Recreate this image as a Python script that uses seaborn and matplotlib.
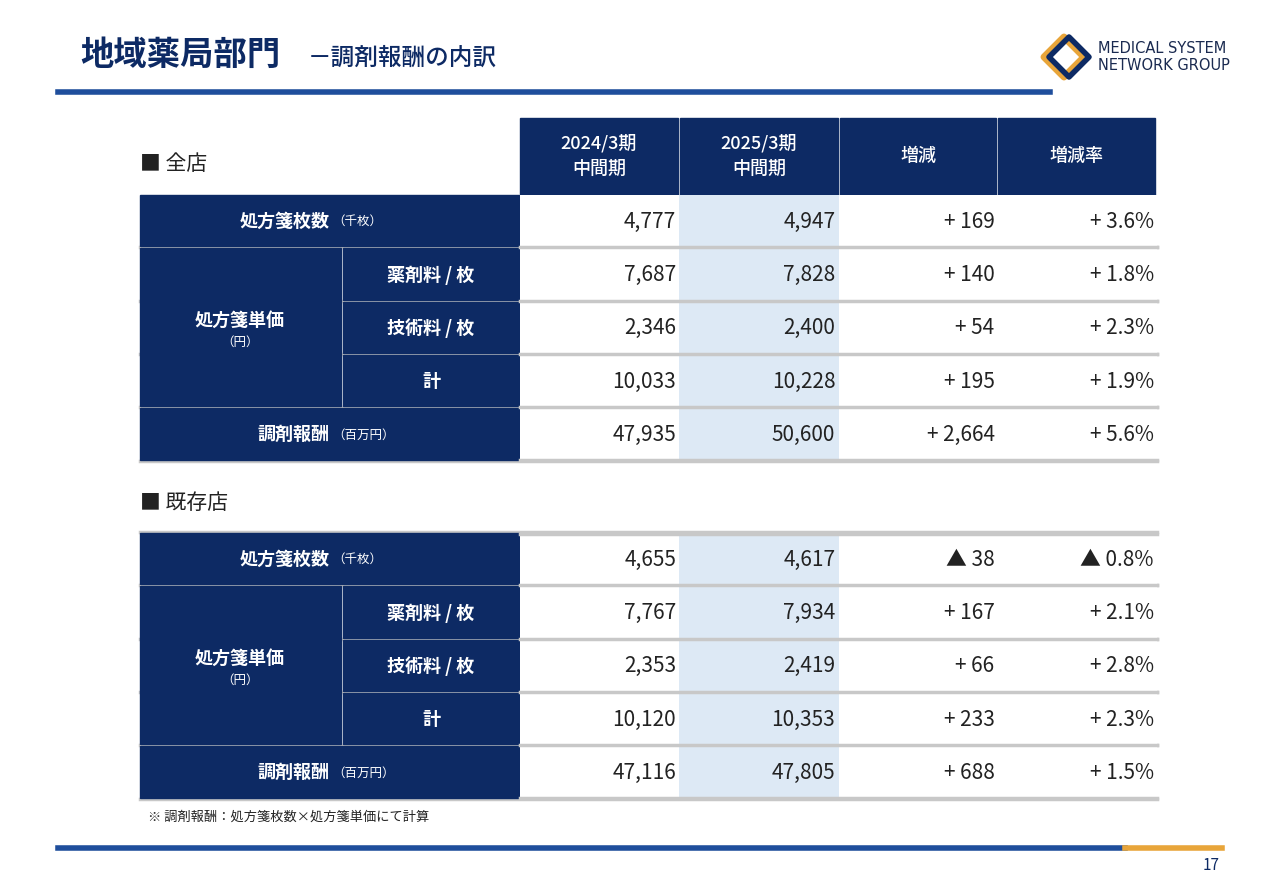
import numpy as np
import pandas as pd
import matplotlib
matplotlib.use("Agg")
import matplotlib.pyplot as plt
import seaborn as sns
from matplotlib.patches import Rectangle, Polygon
from matplotlib.colors import ListedColormap

plt.rcParams["font.family"] = "Noto Sans CJK JP"

NAVY = "#0d2a64"
LIGHT = "#dde9f5"
GRID = "#c8c8c8"

# data
col_labels = ["2024/3期\n中間期", "2025/3期\n中間期", "増減", "増減率"]
zen_prev = ["4,777", "7,687", "2,346", "10,033", "47,935"]
zen_curr = ["4,947", "7,828", "2,400", "10,228", "50,600"]
zen_diff = ["+ 169", "+ 140", "+ 54", "+ 195", "+ 2,664"]
zen_rate = ["+ 3.6%", "+ 1.8%", "+ 2.3%", "+ 1.9%", "+ 5.6%"]
kiz_prev = ["4,655", "7,767", "2,353", "10,120", "47,116"]
kiz_curr = ["4,617", "7,934", "2,419", "10,353", "47,805"]
kiz_diff = ["▲ 38", "+ 167", "+ 66", "+ 233", "+ 688"]
kiz_rate = ["▲ 0.8%", "+ 2.1%", "+ 2.8%", "+ 2.3%", "+ 1.5%"]
sub_labels = ["薬剤料 / 枚", "技術料 / 枚", "計"]

W, H = 1280, 886
fig = plt.figure(figsize=(12.8, 8.86), dpi=100)
bg = fig.add_axes([0, 0, 1, 1])
bg.set_xlim(0, W)
bg.set_ylim(H, 0)
bg.axis("off")


def fax(x0, y0, x1, y1):
    return fig.add_axes([x0 / W, 1 - y1 / H, (x1 - x0) / W, (y1 - y0) / H])


def navy_box(x0, y0, x1, y1):
    bg.add_patch(Rectangle((x0, y0), x1 - x0, y1 - y0, color=NAVY, zorder=2))


def section(top, title, prev, curr, diff, rate, header):
    rows = [top + i * 53.3 for i in range(6)]
    if header:
        xs = [520, 680, 840, 998, 1157]
        for k in range(4):
            navy_box(xs[k], 118, xs[k + 1] - 2, 195)
            bg.text((xs[k] + xs[k + 1] - 2) / 2, 156, col_labels[k], color="white",
                    fontsize=13, ha="center", va="center", linespacing=1.5,
                    fontweight="medium", zorder=3)
    bg.text(140, rows[0] - 30 if not header else 164, "■ " + title, fontsize=15,
            va="center", color="#222222")
    # row labels
    navy_box(140, rows[0], 519, rows[1] - 2)
    bg.text(330, (rows[0] + rows[1]) / 2, "処方箋枚数", color="white", fontsize=13,
            ha="right", va="center", fontweight="bold", zorder=3)
    bg.text(332, (rows[0] + rows[1]) / 2, "（千枚）", color="white", fontsize=9,
            ha="left", va="center", zorder=3)
    navy_box(140, rows[1], 341, rows[4] - 2)
    bg.text(240, (rows[1] + rows[4]) / 2 - 8, "処方箋単価", color="white", fontsize=13,
            ha="center", va="center", fontweight="bold", zorder=3)
    bg.text(240, (rows[1] + rows[4]) / 2 + 14, "（円）", color="white", fontsize=9,
            ha="center", va="center", zorder=3)
    for k in range(3):
        navy_box(343, rows[1 + k], 519, rows[2 + k] - 2)
        bg.text(431, (rows[1 + k] + rows[2 + k]) / 2, sub_labels[k], color="white",
                fontsize=13, ha="center", va="center", fontweight="bold", zorder=3)
    navy_box(140, rows[4], 519, rows[5] - 2)
    bg.text(330, (rows[4] + rows[5]) / 2, "調剤報酬", color="white", fontsize=13,
            ha="right", va="center", fontweight="bold", zorder=3)
    bg.text(332, (rows[4] + rows[5]) / 2, "（百万円）", color="white", fontsize=9,
            ha="left", va="center", zorder=3)

    # numeric block drawn as a seaborn heatmap
    df = pd.DataFrame({"prev": prev, "curr": curr, "diff": diff, "rate": rate})
    shade = np.zeros(df.shape)
    shade[:, 1] = 1
    ax = fax(520, rows[0], 1157, rows[5])
    sns.heatmap(shade, ax=ax, cmap=ListedColormap(["white", LIGHT]), cbar=False,
                xticklabels=False, yticklabels=False, vmin=0, vmax=1)
    for i in range(df.shape[0]):
        for j in range(df.shape[1]):
            ax.text(j + 0.98, i + 0.5, df.iat[i, j], ha="right", va="center",
                    fontsize=15, color="#222222")
        ax.axhline(i + 1 - 0.02, color=GRID, lw=2.5, clip_on=False)
    if not header:
        ax.axhline(0.02, color=GRID, lw=2.5, clip_on=False)
    for i in range(1, 6):
        bg.plot([140, 1157], [rows[i] - 1, rows[i] - 1], color=GRID, lw=2.5, zorder=1)
    if not header:
        bg.plot([140, 1157], [rows[0] - 1, rows[0] - 1], color=GRID, lw=2.5, zorder=1)


section(195, "全店", zen_prev, zen_curr, zen_diff, zen_rate, True)
section(533, "既存店", kiz_prev, kiz_curr, kiz_diff, kiz_rate, False)

# title and decorations
bg.text(80, 55, "地域薬局部門", fontsize=24, fontweight="bold", color=NAVY, va="center")
bg.text(308, 58, "－調剤報酬の内訳", fontsize=17, fontweight="medium", color=NAVY, va="center")
bg.plot([58, 1050], [92, 92], color="#1f4e9c", lw=4)
bg.add_patch(Polygon([(1064, 37), (1084, 57), (1064, 77), (1044, 57)], closed=True,
                     fc="none", ec="#e8a53a", lw=5, joinstyle="round"))
bg.add_patch(Polygon([(1069, 37), (1089, 57), (1069, 77), (1049, 57)], closed=True,
                     fc="none", ec=NAVY, lw=4, joinstyle="round"))
bg.text(1098, 57, "MEDICAL SYSTEM\nNETWORK GROUP", fontsize=10.5, color="#1a2a50",
        va="center", family="DejaVu Sans", linespacing=1.1)
bg.text(148, 817, "※ 調剤報酬：処方箋枚数×処方箋単価にて計算", fontsize=9.5,
        va="center", color="#222222")
bg.plot([58, 1125], [848, 848], color="#1f4e9c", lw=4)
bg.plot([1125, 1222], [848, 848], color="#e8a53a", lw=4)
bg.text(1220, 866, "17", fontsize=11, ha="right", va="center", color=NAVY)

fig.savefig("out.png", dpi=100)
